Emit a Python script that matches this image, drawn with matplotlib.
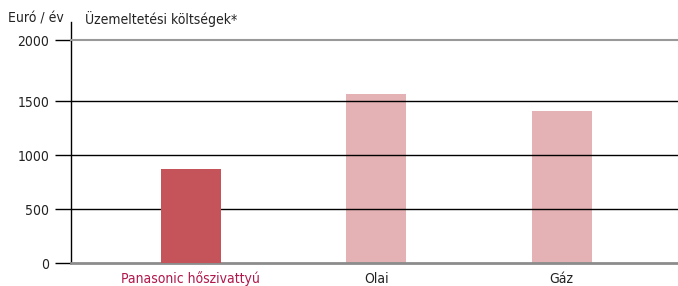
import matplotlib.pyplot as plt

kategoriak = ['Panasonic hőszivattyú', 'Olai', 'Gáz']
koltseg = [870, 1565, 1410]  # Euró / év
y_ertekek = [0, 500, 1000, 1500, 2070]
y_cimkek = ['0', '500', '1000', '1500', '2000']

plt.rcParams['font.family'] = ['DejaVu Sans']
plt.rcParams['font.stretch'] = 'condensed'

fig = plt.figure(figsize=(6.78, 2.86), dpi=100)
ax = fig.add_axes([70.7 / 678, 1 - 263.3 / 286, (678 - 70.7) / 678, (263.3 - 40) / 286])

szinek = ['#c4535a', '#c4535a', '#c4535a']
alfak = [1.0, 0.45, 0.45]
x = range(len(kategoriak))
for i in x:
    ax.bar(i, koltseg[i], width=0.325, color=szinek[i], alpha=alfak[i], zorder=3 if i == 0 else 1)

ax.set_xlim(-0.647, 2.627)
ax.set_ylim(0, 2070)
ax.set_yticks(y_ertekek)
ax.set_yticklabels(y_cimkek, fontsize=10)
ax.set_xticks(list(x))
ax.set_xticklabels(kategoriak, fontsize=10)
ax.tick_params(axis='x', length=0, pad=6, colors='#222222')
ax.get_xticklabels()[0].set_color('#b0174a')
ax.tick_params(axis='y', length=11.3, width=1, pad=4, labelcolor='#222222')

# rácsvonalak
for v in y_ertekek[1:-1]:
    ax.axhline(v, color='black', lw=1, zorder=2)

ax.spines['right'].set_visible(False)
ax.spines['top'].set_color('#999999')
ax.spines['top'].set_linewidth(1.5)
ax.spines['bottom'].set_color('#8c8c8c')
ax.spines['bottom'].set_linewidth(2)
ax.spines['left'].set_linewidth(1)
ax.plot([0, 0], [1, 1.08], transform=ax.transAxes, color='black', lw=1, clip_on=False)

fig.text(8 / 678, 1 - 19 / 286, 'Euró / év', fontsize=10, va='center', ha='left', color='#222222')
fig.text(85 / 678, 1 - 19 / 286, 'Üzemeltetési költségek*', fontsize=10, va='center', ha='left', color='#222222')

plt.savefig('out.png', dpi=100)
